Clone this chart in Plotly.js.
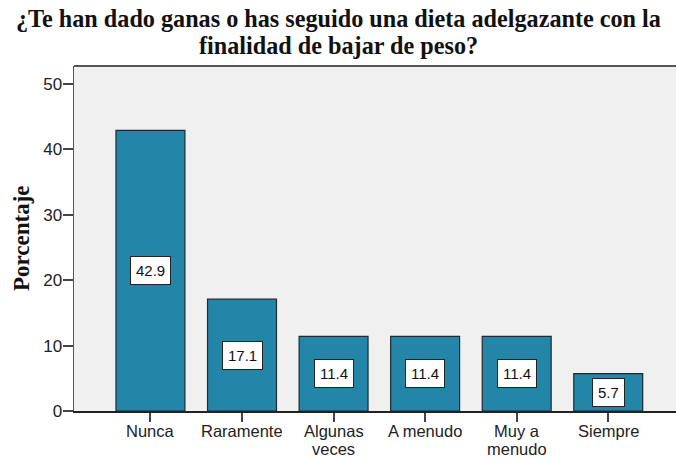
<!DOCTYPE html>
<html>
<head>
<meta charset="utf-8">
<script src="https://cdn.plot.ly/plotly-3.0.1.min.js"></script>
<style>html,body{margin:0;padding:0;background:#fff;}#chart{width:676px;height:458px;}</style>
</head>
<body>
<div id="chart"></div>
<script>
const categories = ["Nunca", "Raramente", "Algunas<br>veces", "A menudo", "Muy a<br>menudo", "Siempre"];
const percentages = [42.9, 17.1, 11.4, 11.4, 11.4, 5.7];
const labels = ["42.9", "17.1", "11.4", "11.4", "11.4", "5.7"];
const yTicks = [0, 10, 20, 30, 40, 50];
const titleLines = ["¿Te han dado ganas o has seguido una dieta adelgazante con la", "finalidad de bajar de peso?"];
const yTitle = "Porcentaje";

const xIdx = categories.map((c, i) => i);
const SANS = "Liberation Sans, Arial, sans-serif";
const SERIF = "Liberation Serif, Times New Roman, serif";

// plot geometry (pixels) used to convert to paper coords
const W = 676, H = 458, ML = 74, MR = 0, MT = 66, MB = 47;
const PW = W - ML - MR, PH = H - MT - MB;
const px2x = px => (px - ML) / PW;
const py2y = py => (H - MB - py) / PH;

const trace = {
  type: "bar",
  x: xIdx,
  y: percentages,
  width: 0.753,
  marker: { color: "#2386A8", line: { color: "#1f2a30", width: 1.2 } },
  hoverinfo: "skip"
};

const annotations = [];
percentages.forEach((v, i) => annotations.push({
  x: i, y: v / 2, xref: "x", yref: "y",
  text: labels[i], showarrow: false,
  font: { family: SANS, size: 15, color: "#111" },
  bgcolor: "#ffffff", bordercolor: "#222", borderwidth: 1, borderpad: 5, height: 17
}));

// x category labels (each line placed separately for tight line spacing)
categories.forEach((c, i) => {
  c.split("<br>").forEach((line, k) => annotations.push({
    x: i, xref: "x", y: py2y(431 + k * 17.5), yref: "paper",
    text: line, showarrow: false, yanchor: "middle", xanchor: "center",
    font: { family: SANS, size: 16.5, color: "#222" }, height: 18, borderpad: 0
  }));
});

// title lines
titleLines.forEach((line, k) => annotations.push({
  x: px2x(338), xref: "paper", y: py2y(18.5 + k * 27), yref: "paper",
  text: "<b>" + line + "</b>", showarrow: false, xanchor: "center", yanchor: "middle",
  font: { family: SERIF, size: 24.2, color: "#111" }, borderpad: 0
}));

// y axis title
annotations.push({
  x: px2x(21), xref: "paper", y: py2y(238), yref: "paper",
  text: "<b>" + yTitle + "</b>", showarrow: false, textangle: -90,
  xanchor: "center", yanchor: "middle",
  font: { family: SERIF, size: 23, color: "#111" }
});

const layout = {
  width: W, height: H,
  margin: { l: ML, r: MR, t: MT, b: MB },
  paper_bgcolor: "#ffffff",
  plot_bgcolor: "#F0F0F0",
  showlegend: false,
  xaxis: {
    range: [-0.835, 5.74],
    tickvals: xIdx, showticklabels: false,
    ticks: "outside", ticklen: 9, tickwidth: 2, tickcolor: "#444",
    showline: true, linecolor: "#222", linewidth: 1.5,
    showgrid: false, zeroline: false, fixedrange: true
  },
  yaxis: {
    range: [0, 52.75],
    tickvals: yTicks,
    ticks: "outside", ticklen: 10, tickwidth: 2, tickcolor: "#444",
    ticklabelstandoff: -3,
    tickfont: { family: SANS, size: 17, color: "#222" },
    showline: true, linecolor: "#555", linewidth: 1.5,
    showgrid: false, zeroline: false, fixedrange: true
  },
  shapes: [
    { type: "line", xref: "paper", yref: "paper", x0: 0, x1: 1, y0: 1, y1: 1, line: { color: "#555", width: 2 } }
  ],
  annotations: annotations,
  bargap: 0
};

Plotly.newPlot("chart", [trace], layout, { displayModeBar: false, staticPlot: true });
</script>
</body>
</html>
